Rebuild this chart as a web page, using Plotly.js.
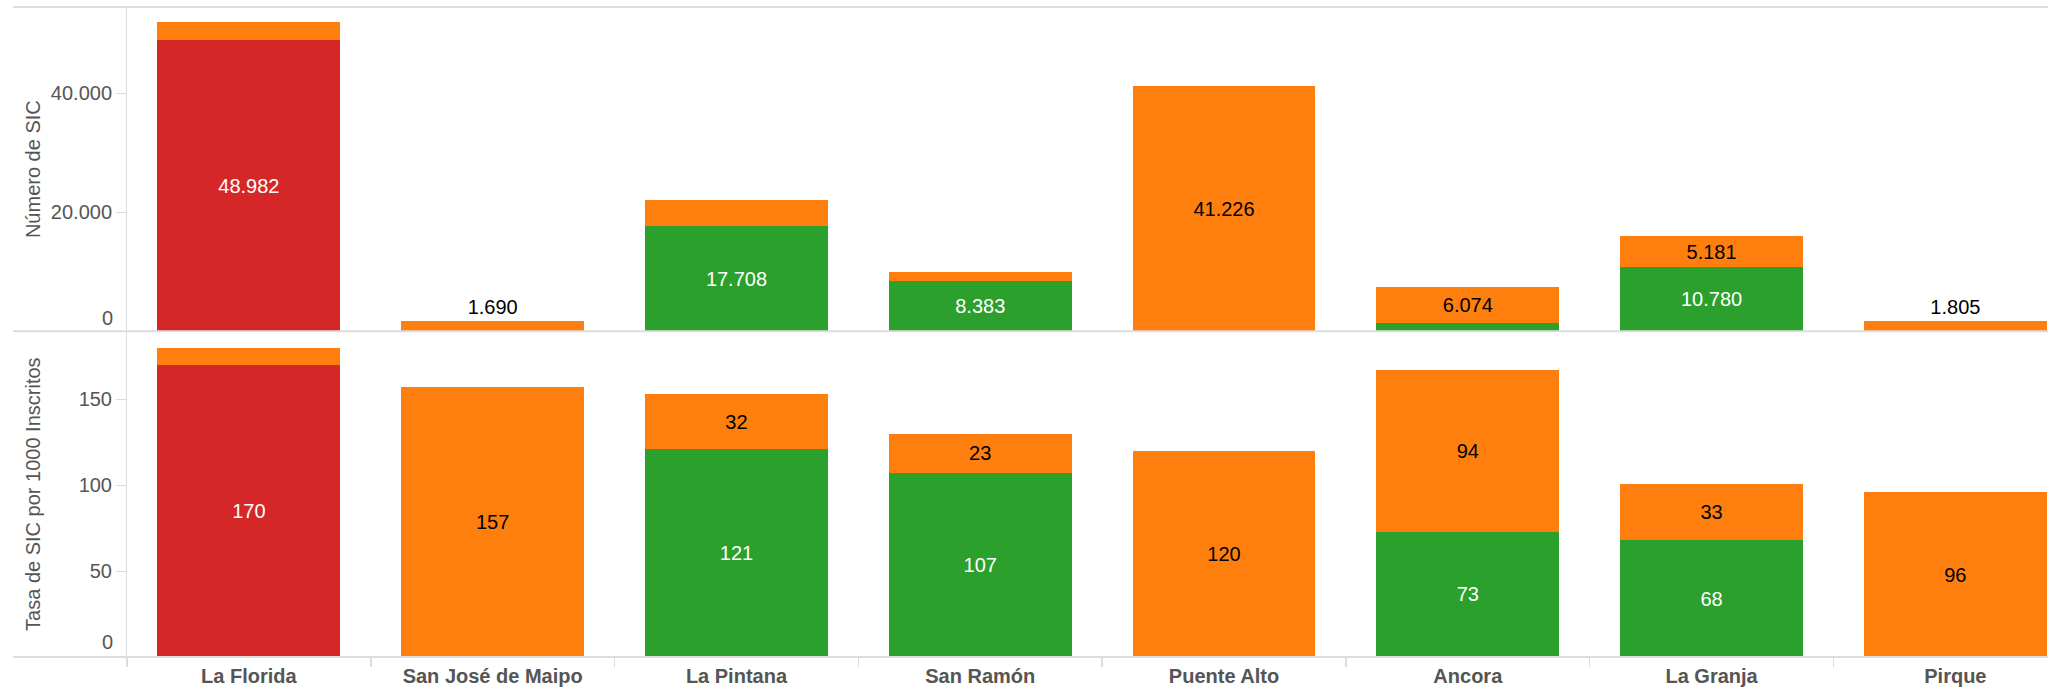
<!DOCTYPE html>
<html>
<head>
<meta charset="utf-8">
<script src="https://cdn.plot.ly/plotly-3.0.1.min.js"></script>
<style>
  html, body { margin: 0; padding: 0; background: #fff; overflow: hidden; }
  #chart { width: 2048px; height: 689px; }
</style>
</head>
<body>
<div id="chart"></div>
<script>
// ---- data ----
const categories = ['La Florida', 'San José de Maipo', 'La Pintana', 'San Ramón', 'Puente Alto', 'Ancora', 'La Granja', 'Pirque'];

// Número de SIC (stacked)
const sicRed    = [48982, null, null, null, null, null, null, null];
const sicGreen  = [null, null, 17708, 8383, null, 1370, 10780, null];
const sicOrange = [3000, 1690, 4360, 1580, 41226, 6074, 5181, 1805];

// Tasa de SIC por 1000 Inscritos (stacked)
const tasaRed    = [170, null, null, null, null, null, null, null];
const tasaGreen  = [null, null, 121, 107, null, 73, 68, null];
const tasaOrange = [10, 157, 32, 23, 120, 94, 33, 96];

const sicTicks  = [0, 20000, 40000];
const tasaTicks = [0, 50, 100, 150];

const sicMax = 54500;
const tasaMax = 189.6;

// ---- helpers ----
const fmt = v => String(Math.round(v)).replace(/\B(?=(\d{3})+(?!\d))/g, '.');
const RED = '#d62728', GREEN = '#2ca02c', ORANGE = '#ff7f0e';
const FONT = 'Liberation Sans, Arial, Helvetica, sans-serif';
const GREY = '#dddddd';
const TXT = '#555555';

function labelInfo(vals, others, axisMax) {
  const text = [], pos = [];
  vals.forEach((v, i) => {
    if (v == null) { text.push(''); pos.push('none'); return; }
    const single = others.every(o => o[i] == null);
    const fits = v >= 0.09 * axisMax;
    if (fits) { text.push(fmt(v)); pos.push('inside'); }
    else if (single) { text.push(fmt(v)); pos.push('outside'); }
    else { text.push(''); pos.push('none'); }
  });
  return { text, pos };
}

function barTrace(vals, others, axisMax, color, txtColor, yaxis) {
  const li = labelInfo(vals, others, axisMax);
  return {
    type: 'bar', x: categories, y: vals, xaxis: 'x', yaxis: yaxis,
    marker: { color: color, line: { width: 0 } },
    text: li.text, textposition: li.pos, texttemplate: '%{text}',
    insidetextanchor: 'middle', textangle: 0,
    insidetextfont: { family: FONT, size: 20, color: txtColor },
    outsidetextfont: { family: FONT, size: 20, color: '#000' },
    cliponaxis: false,
    hoverinfo: 'skip', showlegend: false
  };
}

const traces = [
  barTrace(sicRed, [sicGreen, sicOrange], sicMax, RED, '#fff', 'y'),
  barTrace(sicGreen, [sicRed, sicOrange], sicMax, GREEN, '#fff', 'y'),
  barTrace(sicOrange, [sicRed, sicGreen], sicMax, ORANGE, '#000', 'y'),
  barTrace(tasaRed, [tasaGreen, tasaOrange], tasaMax, RED, '#fff', 'y2'),
  barTrace(tasaGreen, [tasaRed, tasaOrange], tasaMax, GREEN, '#fff', 'y2'),
  barTrace(tasaOrange, [tasaRed, tasaGreen], tasaMax, ORANGE, '#000', 'y2')
];

const yCommon = {
  ticks: 'outside', ticklen: 10, tickwidth: 1, tickcolor: GREY,
  showgrid: false, zeroline: false,
  showline: true, linecolor: GREY, linewidth: 1,
  tickfont: { family: FONT, size: 20, color: TXT },
  fixedrange: true
};

const DIV = 0.501;
const lineX0 = -0.0593;

const layout = {
  width: 2048, height: 689,
  margin: { l: 127, r: 0, t: 7, b: 32, pad: 0 },
  paper_bgcolor: '#fff', plot_bgcolor: '#fff',
  barmode: 'stack', bargap: 0.25,
  separators: ',.',
  font: { family: FONT, color: TXT },
  uniformtext: { mode: 'show', minsize: 20 },
  xaxis: {
    anchor: 'y2', type: 'category', categoryorder: 'array', categoryarray: categories,
    range: [-0.5, 7.38],
    tickson: 'boundaries', ticks: 'outside', ticklen: 9, tickwidth: 1.5, tickcolor: GREY,
    ticklabelstandoff: 5,
    showline: false, showgrid: false, zeroline: false,
    tickfont: { family: FONT, size: 20, color: TXT, weight: 'bold' },
    fixedrange: true
  },
  yaxis: Object.assign({}, yCommon, {
    domain: [DIV, 1], anchor: 'x', range: [0, sicMax],
    tickvals: sicTicks, ticktext: sicTicks.map(v => v === 0 ? '' : fmt(v)),
    title: { text: 'Número de SIC', font: { family: FONT, size: 20, color: TXT }, standoff: 4 }
  }),
  yaxis2: Object.assign({}, yCommon, {
    domain: [0, DIV], anchor: 'x', range: [0, tasaMax],
    tickvals: tasaTicks, ticktext: tasaTicks.map(v => v === 0 ? '' : fmt(v)),
    title: { text: 'Tasa de SIC por 1000 Inscritos', font: { family: FONT, size: 20, color: TXT }, standoff: 32 }
  }),
  shapes: [
    { type: 'line', xref: 'paper', yref: 'paper', x0: lineX0, x1: 1, y0: 1, y1: 1, line: { color: GREY, width: 2 }, layer: 'above' },
    { type: 'line', xref: 'paper', yref: 'paper', x0: lineX0, x1: 1, y0: DIV, y1: DIV, line: { color: GREY, width: 2 }, layer: 'above' },
    { type: 'line', xref: 'paper', yref: 'paper', x0: lineX0, x1: 1, y0: 0, y1: 0, line: { color: GREY, width: 2 }, layer: 'above' }
  ],
  annotations: [
    { xref: 'paper', x: 0, xanchor: 'right', xshift: -12, yref: 'y', y: 0, yanchor: 'middle', yshift: 13,
      text: fmt(sicTicks[0]), showarrow: false, font: { family: FONT, size: 20, color: TXT } },
    { xref: 'paper', x: 0, xanchor: 'right', xshift: -12, yref: 'y2', y: 0, yanchor: 'middle', yshift: 15,
      text: fmt(tasaTicks[0]), showarrow: false, font: { family: FONT, size: 20, color: TXT } }
  ]
};

Plotly.newPlot('chart', traces, layout, { displayModeBar: false, staticPlot: true });
</script>
</body>
</html>
